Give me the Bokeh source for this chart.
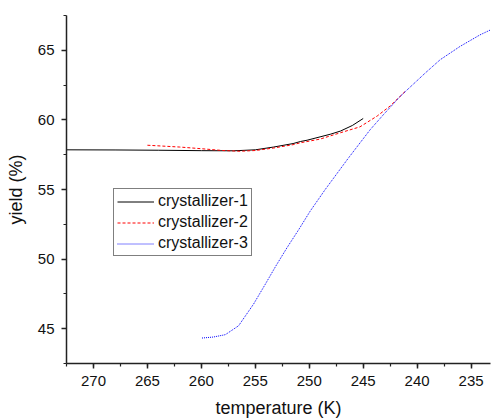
from bokeh.plotting import figure
from bokeh.models import Range1d, SingleIntervalTicker, Legend, LegendItem
from bokeh.embed import file_html
from bokeh.resources import INLINE

# crystallizer-1 (black solid)
t1 = [272.5, 268, 264, 260, 257, 255, 253.3, 251.5, 250.8, 250.2, 249, 248, 247.1, 246, 245]
y1 = [57.85, 57.84, 57.82, 57.79, 57.78, 57.85, 58.05, 58.3, 58.45, 58.54, 58.78, 58.98, 59.2, 59.6, 60.1]

# crystallizer-2 (red dashed)
t2 = [265, 262, 260, 258, 256.4, 255, 253.3, 251.5, 250.8, 249, 247.1, 245.3, 243.7, 242.5, 241.1]
y2 = [58.18, 58.05, 57.93, 57.8, 57.75, 57.8, 57.98, 58.22, 58.36, 58.62, 59.08, 59.5, 60.28, 61.0, 62.05]

# crystallizer-3 (blue dotted)
t3 = [259.94, 258.9, 257.78, 256.55, 255.16, 254.07, 253.1, 252.06, 250.99, 249.91, 248.52,
      246.36, 244.35, 243.12, 241.57, 239.26, 237.87, 236.02, 234.17, 233.24]
y3 = [44.33, 44.4, 44.57, 45.21, 46.77, 48.2, 49.5, 50.82, 52.1, 53.45, 55.0,
      57.27, 59.3, 60.38, 61.69, 63.36, 64.32, 65.28, 66.11, 66.45]

labels = ["crystallizer-1", "crystallizer-2", "crystallizer-3"]

FONT = "Liberation Sans"

p = figure(width=491, height=420, output_backend="svg", toolbar_location=None,
           x_range=Range1d(272.5, 233.2), y_range=Range1d(42.5, 67.5),
           min_border_left=66, min_border_right=1, min_border_top=15, min_border_bottom=57)
p.outline_line_color = None
p.grid.visible = False
p.background_fill_color = "white"
p.border_fill_color = "white"

r1 = p.line(t1, y1, line_color="black", line_width=1)
r2 = p.line(t2, y2, line_color="red", line_width=1, line_dash="3 2")
r3 = p.line(t3, y3, line_color="blue", line_width=1, line_dash="1 1")

for ax in (p.xaxis[0], p.yaxis[0]):
    ax.ticker = SingleIntervalTicker(interval=5, num_minor_ticks=2)
    ax.axis_line_color = "#222222"
    ax.axis_line_width = 1.5
    ax.major_tick_line_color = "#222222"
    ax.major_tick_line_width = 1.5
    ax.minor_tick_line_color = "#222222"
    ax.minor_tick_line_width = 1.2
    ax.major_tick_out = 5
    ax.major_tick_in = 0
    ax.minor_tick_out = 3
    ax.minor_tick_in = 0
    ax.major_label_text_font = FONT
    ax.major_label_text_font_size = "15px"
    ax.major_label_text_color = "#111111"
    ax.axis_label_text_font = FONT
    ax.axis_label_text_font_size = "18px"
    ax.axis_label_text_font_style = "normal"
    ax.axis_label_text_color = "#111111"

p.xaxis.axis_label = "temperature (K)"
p.yaxis.axis_label = "yield (%)"
p.xaxis.major_label_standoff = 7
p.yaxis.major_label_standoff = 7
p.xaxis.axis_label_standoff = 9
p.yaxis.axis_label_standoff = 9

legend = Legend(items=[LegendItem(label=labels[0], renderers=[r1]),
                       LegendItem(label=labels[1], renderers=[r2]),
                       LegendItem(label=labels[2], renderers=[r3])],
                location=(47, 107))
legend.border_line_color = "black"
legend.border_line_width = 1
legend.background_fill_alpha = 1
legend.label_text_font = FONT
legend.label_text_font_size = "16px"
legend.label_text_color = "#111111"
legend.glyph_width = 37
legend.glyph_height = 17
legend.label_height = 17
legend.label_standoff = 4
legend.spacing = 3
legend.padding = 3
legend.margin = 0
p.add_layout(legend, "center")

open("out.html", "w").write(file_html(p, INLINE))
